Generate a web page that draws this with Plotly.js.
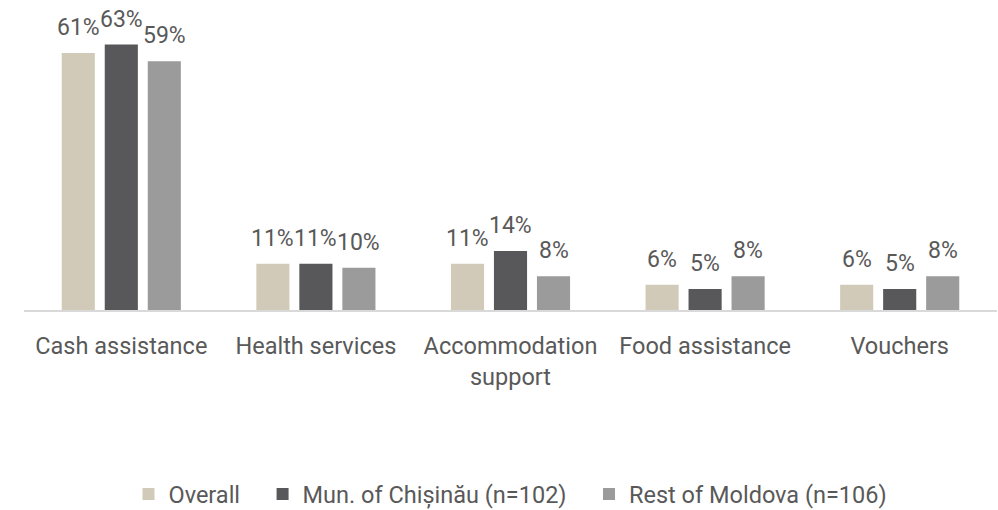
<!DOCTYPE html>
<html>
<head>
<meta charset="utf-8">
<script src="https://cdn.plot.ly/plotly-3.0.1.min.js"></script>
<style>html,body{margin:0;padding:0;background:#fff;}#chart{width:998px;height:510px;}</style>
</head>
<body>
<div id="chart"></div>
<script>
const categories = ["Cash assistance", "Health services", "Accommodation<br>support", "Food assistance", "Vouchers"];
const seriesNames = ["Overall", "Mun. of Chișinău (n=102)", "Rest of Moldova (n=106)"];
const overall = [61, 11, 11, 6, 6];
const chisinau = [63, 11, 14, 5, 5];
const restMoldova = [59, 10, 8, 8, 8];
const colors = ["#d1cab8", "#58585a", "#9b9b9b"];

const allValues = [overall, chisinau, restMoldova];
const font = "Roboto, 'Noto Sans', sans-serif";
const pad = "\u00a0\u00a0\u00a0";

const W = 998, H = 510;
const margin = {l: 24, r: 1, t: 15, b: 200};
const bargap = 0.337, bargroupgap = 0.23;

const traces = allValues.map((vals, i) => ({
  type: "bar",
  name: i < allValues.length - 1 ? seriesNames[i] + pad : seriesNames[i],
  x: categories,
  y: vals,
  marker: {color: colors[i]},
  hoverinfo: "none"
}));

// data labels as annotations anchored on each bar's value
const slotPx = (W - margin.l - margin.r) / categories.length * (1 - bargap) / allValues.length;
const annotations = [];
allValues.forEach((vals, i) => {
  vals.forEach((v, j) => {
    annotations.push({
      x: categories[j], y: v, xref: "x", yref: "y",
      text: v + "%", showarrow: false,
      xanchor: "center", yanchor: "bottom",
      xshift: (i - (allValues.length - 1) / 2) * slotPx,
      yshift: 10,
      font: {family: font, size: 23, color: "#595959"}
    });
  });
});

const layout = {
  width: W, height: H,
  margin: margin,
  paper_bgcolor: "#fff", plot_bgcolor: "#fff",
  barmode: "group",
  bargap: bargap,
  bargroupgap: bargroupgap,
  font: {family: font, color: "#595959"},
  xaxis: {
    showline: true, linecolor: "#d9d9d9", linewidth: 2,
    ticks: "", ticklabelstandoff: 14,
    tickfont: {family: font, size: 23.5, color: "#595959"},
    fixedrange: true
  },
  yaxis: {range: [0, 70], visible: false, showgrid: false, zeroline: false, fixedrange: true},
  annotations: annotations,
  showlegend: true,
  legend: {
    orientation: "h", x: 0.50, xref: "paper", xanchor: "center",
    y: 0.031, yref: "container", yanchor: "middle",
    font: {family: font, size: 23.5, color: "#595959"},
    itemwidth: 30, tracegroupgap: 0
  }
};

Plotly.newPlot("chart", traces, layout, {displayModeBar: false, staticPlot: true});
</script>
</body>
</html>
